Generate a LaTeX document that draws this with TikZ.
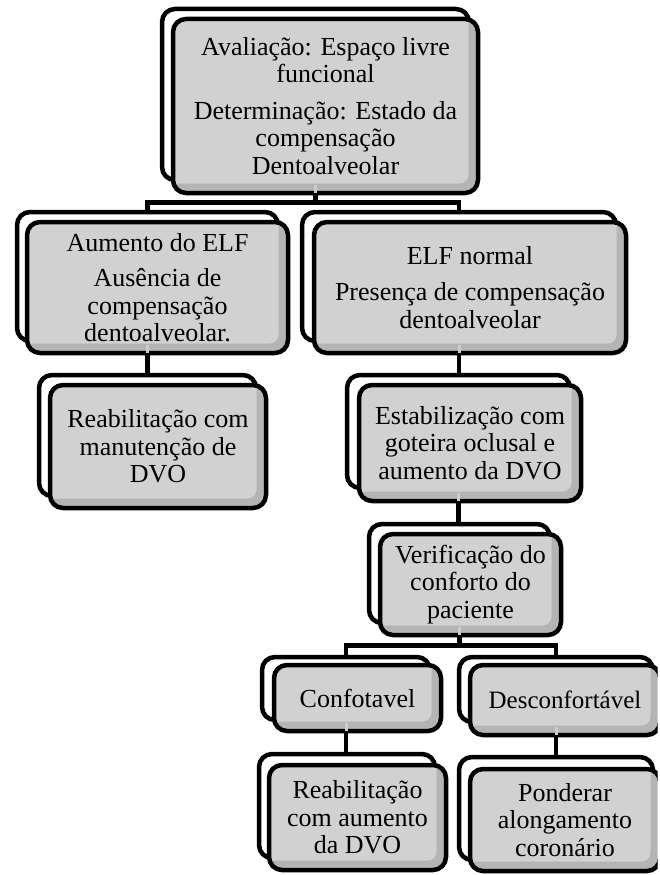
\documentclass[tikz,border=0pt]{standalone}
\usepackage{fontspec}
\setmainfont{Liberation Serif}
\usetikzlibrary{backgrounds}
\definecolor{maingray}{HTML}{D1D1D1}
\definecolor{bandgray}{HTML}{B4B4B4}
\definecolor{lightline}{HTML}{CDCDCD}
\tikzset{
  backbox/.style={draw=black, line width=4.5pt, fill=white, rounded corners=13pt, inner sep=0pt},
  frontbox/.style={draw=black, line width=4.5pt, fill=bandgray, rounded corners=13pt, inner sep=0pt,
    align=center, font=\fontsize{26}{27.5}\selectfont,
    path picture={\fill[maingray, rounded corners=9pt]
      ([shift={(-20pt,20pt)}]path picture bounding box.north west) rectangle
      ([shift={(-9.5pt,9.5pt)}]path picture bounding box.south east);}},
  conn/.style={draw=black, line width=4.5pt},
  bandline/.style={draw=lightline, line width=3pt},
}
\newcommand{\bbox}[5]{%
  \pgfmathsetmacro\pbW{#4-#2}\pgfmathsetmacro\pbH{#5-#3}%
  \pgfmathsetmacro\pbX{(#2+#4)/2}\pgfmathsetmacro\pbY{(#3+#5)/2}%
  \node[backbox, minimum width=\pbW pt, minimum height=\pbH pt] (#1) at (\pbX,\pbY) {};}
\newcommand{\frbox}[6]{%
  \pgfmathsetmacro\pbW{#4-#2}\pgfmathsetmacro\pbH{#5-#3}%
  \pgfmathsetmacro\pbX{(#2+#4)/2}\pgfmathsetmacro\pbY{(#3+#5)/2}%
  \node[frontbox, minimum width=\pbW pt, minimum height=\pbH pt] (#1) at (\pbX,\pbY) {#6};}
\begin{document}
\begin{tikzpicture}[x=1pt,y=-1pt]
\useasboundingbox (0,0) rectangle (659,875);
\clip (0,0) rectangle (657.5,875);
% top
\bbox{topB}{162}{9}{469}{180}
\frbox{top}{173}{19}{478}{193}{Avaliação: Espaço livre\\funcional\\[9pt]Determinação: Estado da\\compensação\\Dentoalveolar}
% level 2
\bbox{aumB}{17}{212}{278}{341}
\frbox{aum}{27}{222}{288}{353}{Aumento do ELF\\[8pt]Ausência de\\compensação\\dentoalveolar.}
\bbox{elfB}{302}{212}{616}{341}
\frbox{elf}{314}{222}{626}{353}{ELF normal\\[9pt]Presença de compensação\\dentoalveolar}
% level 3
\bbox{rmB}{39}{375}{256}{496}
\frbox{rm}{50}{385}{266}{508}{Reabilitação com\\manutenção de\\DVO}
\bbox{estB}{347}{375}{570}{488}
\frbox{est}{359}{385}{581}{501}{Estabilização com\\goteira oclusal e\\aumento da DVO}
% level 4
\bbox{verB}{369}{524}{550}{623}
\frbox{ver}{380}{534}{561}{635}{Verificação do\\conforto do\\paciente}
% level 5
\bbox{conB}{262}{657}{430}{720}
\frbox{con}{274}{665}{441}{731}{Confotavel}
\bbox{desB}{459}{657}{653}{722}
\frbox{des}{470}{665}{660}{735}{\fontsize{25}{27}\selectfont Desconfortável}
% level 6
\bbox{raB}{259}{754}{435}{858}
\frbox{ra}{269}{765}{446}{870}{Reabilitação\\com aumento\\da DVO}
\bbox{ponB}{459}{757}{653}{860}
\frbox{pon}{470}{769}{660}{871}{Ponderar\\alongamento\\coronário}
% connectors
\coordinate (j1) at (315.5,202.5);
\coordinate (j2) at (459.5,645.5);
\begin{scope}[on background layer]
  \draw[conn] (topB.center) -- (topB.center |- j1) -| (aumB.north);
  \draw[conn] (topB.center) -- (topB.center |- j1) -| (elfB.north);
  \draw[conn] (aumB.center) -- (aumB.center |- rmB.north);
  \draw[conn] (elfB.center) -- (elfB.center |- estB.north);
  \draw[conn] (estB.center) -- (estB.center |- verB.north);
  \draw[conn] (verB.center) -- (verB.center |- j2) -| (conB.north);
  \draw[conn] (verB.center) -- (verB.center |- j2) -| (desB.north);
  \draw[conn] (conB.center) -- (conB.center |- raB.north);
  \draw[conn] (desB.center) -- (desB.center |- ponB.north);
\end{scope}
% light connector traces in front bands
\draw[bandline, shorten <=2.5pt] (topB.center |- top.south) -- ++(0,-10);
\draw[bandline, shorten <=2.5pt] (aumB.center |- aum.south) -- ++(0,-10);
\draw[bandline, shorten <=2.5pt] (elfB.center |- elf.south) -- ++(0,-10);
\draw[bandline, shorten <=2.5pt] (estB.center |- est.south) -- ++(0,-10);
\draw[bandline, shorten <=2.5pt] (verB.center |- ver.south) -- ++(0,-10);
\draw[bandline, shorten <=2.5pt] (conB.center |- con.south) -- ++(0,-10);
\draw[bandline, shorten <=2.5pt] (desB.center |- des.south) -- ++(0,-10);
\end{tikzpicture}
\end{document}
